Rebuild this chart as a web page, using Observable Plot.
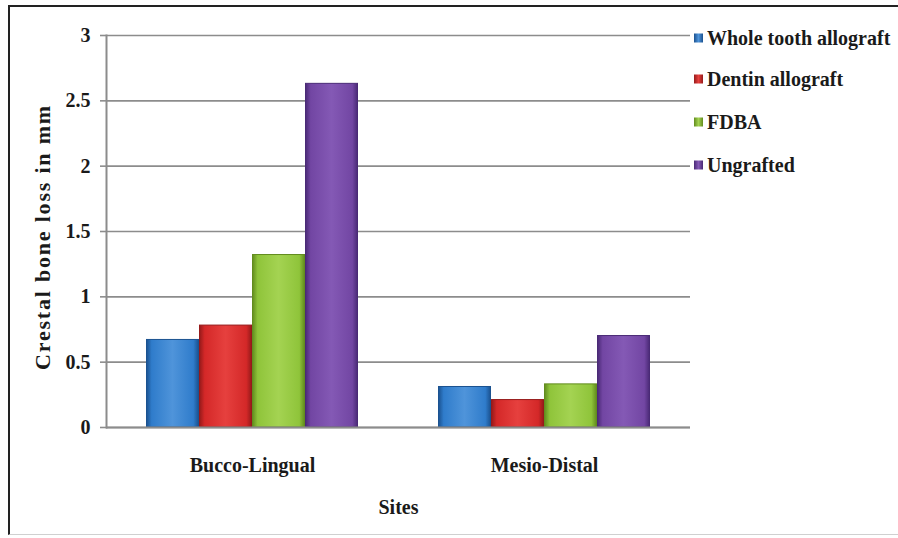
<!DOCTYPE html>
<html><head><meta charset="utf-8">
<script src="https://cdn.jsdelivr.net/npm/d3@7"></script>
<script src="https://cdn.jsdelivr.net/npm/@observablehq/plot@0.6"></script>
<style>
body{margin:0;background:#fff;}
#wrap{position:relative;width:898px;height:538px;overflow:hidden;font-family:"Liberation Serif",serif;color:#1a1a1a;}
#border{position:absolute;left:8px;top:5px;width:892px;height:530px;border-left:2px solid #222;border-top:2px solid #222;border-bottom:1px solid #d0d0d0;box-sizing:border-box;}
#chart{position:absolute;left:0;top:0;}
#chart svg, #chart svg text{font-family:"Liberation Serif",serif !important;font-weight:bold;}
#ylab{position:absolute;left:43px;top:237px;transform:translate(-50%,-50%) rotate(-90deg);white-space:nowrap;font-family:"Liberation Serif",serif;font-weight:bold;font-size:22px;letter-spacing:1.8px;}
.item{position:absolute;left:694px;display:flex;align-items:center;white-space:nowrap;font-family:"Liberation Serif",serif;font-weight:bold;font-size:20px;transform:translateY(-50%);}
.sw{width:9px;height:9px;margin-right:4px;}
</style></head>
<body>
<div id="wrap">
  <div id="border"></div>
  <div id="chart"></div>
  <div id="ylab">Crestal bone loss in mm</div>
  <div id="legend"></div>
</div>
<script>
const sites = ["Bucco-Lingual", "Mesio-Distal"];
const series = ["Whole tooth allograft", "Dentin allograft", "FDBA", "Ungrafted"];
const buccoLingual = [0.67, 0.78, 1.32, 2.63];
const mesioDistal = [0.31, 0.21, 0.33, 0.70];
const yTicks = [0, 0.5, 1, 1.5, 2, 2.5, 3];
const baseColors = ["#2f7ccb", "#d42828", "#8fc43a", "#7246a3"];
const darkColors = ["#1b5290", "#961a1a", "#628c1e", "#4a2a76"];
const lightColors = ["#4f94da", "#e6403e", "#a4d352", "#8459b5"];

const data = [];
sites.forEach((site, i) => {
  const vals = i === 0 ? buccoLingual : mesioDistal;
  series.forEach((s, j) => data.push({site, series: s, value: vals[j]}));
});

const plot = Plot.plot({
  width: 700, height: 538,
  marginLeft: 105, marginRight: 10, marginTop: 35, marginBottom: 111,
  style: {fontFamily: "Liberation Serif", fontWeight: "bold", fontSize: "20px", color: "#1a1a1a", background: "transparent"},
  fx: {domain: sites, padding: 0, label: null},
  x: {domain: series, paddingInner: 0, paddingOuter: 0.75, axis: null},
  y: {domain: [0, 3]},
  color: {domain: series, range: baseColors},
  marks: [
    Plot.gridY(yTicks, {stroke: "#8c8c8c", strokeOpacity: 1, strokeWidth: 1.6}),
    Plot.axisY(yTicks, {tickSize: 6, tickPadding: 10, stroke: "#8c8c8c", strokeWidth: 1.6, label: null, tickFormat: d => String(d), fontSize: 20}),
    Plot.barY(data, {fx: "site", x: "series", y: "value", fill: "series", insetLeft: 0.5, insetRight: 0.5}),
    Plot.ruleY([0], {stroke: "#8c8c8c", strokeWidth: 2}),
    Plot.frame({anchor: "left", facetAnchor: "left", stroke: "#8c8c8c", strokeWidth: 2}),
    Plot.axisFx({anchor: "bottom", tickSize: 0, tickPadding: 30, fontSize: 20, label: "Sites", labelAnchor: "center", labelOffset: 86})
  ]
});
document.getElementById("chart").appendChild(plot);

// gradients for the bevelled bar look
const svg = d3.select(plot);
const defs = svg.insert("defs", ":first-child");
baseColors.forEach((c, i) => {
  const g = defs.append("linearGradient").attr("id", "grad" + i).attr("x1", "0").attr("x2", "1").attr("y1", "0").attr("y2", "0");
  g.append("stop").attr("offset", "0%").attr("stop-color", darkColors[i]);
  g.append("stop").attr("offset", "10%").attr("stop-color", c);
  g.append("stop").attr("offset", "50%").attr("stop-color", lightColors[i]);
  g.append("stop").attr("offset", "90%").attr("stop-color", c);
  g.append("stop").attr("offset", "100%").attr("stop-color", darkColors[i]);
});
svg.selectAll("g[aria-label=bar] rect").each(function() {
  const f = this.getAttribute("fill");
  const i = baseColors.indexOf(f);
  if (i >= 0) {
    this.setAttribute("fill", `url(#grad${i})`);
    this.setAttribute("stroke", darkColors[i]);
    this.setAttribute("stroke-width", "1");
  }
});

// legend
const legendY = [38, 79, 122, 165];
const legend = document.getElementById("legend");
series.forEach((s, i) => {
  const d = document.createElement("div");
  d.className = "item";
  d.style.top = legendY[i] + "px";
  d.innerHTML = `<span class="sw" style="background:linear-gradient(90deg, ${darkColors[i]}, ${lightColors[i]}, ${darkColors[i]})"></span><span>${s}</span>`;
  legend.appendChild(d);
});
</script>
</body></html>
